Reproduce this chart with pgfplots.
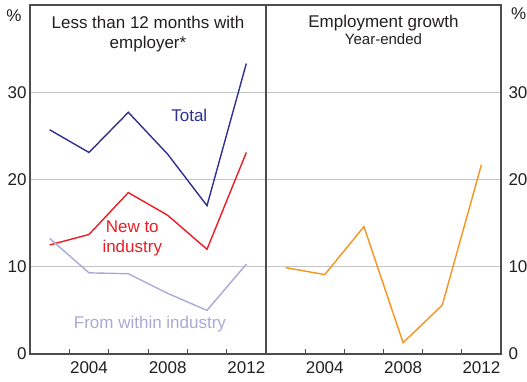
\documentclass[border=0pt]{standalone}
\usepackage{pgfplots}
\pgfplotsset{compat=1.18}
\usepackage{fontspec}
\setmainfont{Liberation Sans}
\definecolor{rbanavy}{HTML}{2E3192}
\definecolor{rbared}{HTML}{ED1C24}
\definecolor{rbalav}{HTML}{A9A9D9}
\definecolor{rbaorange}{HTML}{F7941D}
\definecolor{framegray}{HTML}{4D4D4D}
\definecolor{gridgray}{HTML}{C4C4C4}
\definecolor{textgray}{HTML}{231F20}
\newcommand{\bigf}{\fontsize{17}{20}\selectfont}
\newcommand{\smallf}{\fontsize{15}{17}\selectfont}
\pgfplotsset{panel/.style={
  scale only axis, width=236pt, height=349pt,
  xmin=2001, xmax=2013, ymin=0, ymax=40,
  xtick={2004,2008,2012},
  minor xtick={2003,2005,...,2011},
  major x tick style={draw=none},
  minor x tick style={framegray, line width=0.8pt},
  minor tick length=5pt,
  tick align=inside,
  xtick pos=bottom,
  ytick={0,10,20,30},
  ytick style={draw=none},
  ymajorgrids, grid style={gridgray, line width=0.9pt},
  axis line style={framegray, line width=1.2pt},
  /pgf/number format/assume math mode=true,
  /pgf/number format/1000 sep={},
  tick label style={font=\bigf, text=textgray},
  x tick label style={yshift=-4pt},
  every axis plot/.append style={line width=1.4pt, mark=none},
  clip=false,
}}
\begin{document}
\begin{tikzpicture}[x=1pt,y=1pt]
\begin{axis}[panel, at={(30pt,27pt)}, anchor=south west, yticklabel pos=left]
\addplot[rbanavy] coordinates {(2002,25.7) (2004,23.1) (2006,27.7) (2008,22.9) (2010,17.0) (2012,33.3)};
\addplot[rbared] coordinates {(2002,12.5) (2004,13.7) (2006,18.5) (2008,15.9) (2010,12.0) (2012,23.1)};
\addplot[rbalav] coordinates {(2002,13.25) (2004,9.3) (2006,9.2) (2008,6.95) (2010,5.0) (2012,10.3)};
\node[font=\bigf, text=rbanavy] at (axis cs:2009.1,27.3) {Total};
\node[font=\bigf, text=rbared, align=center] at (axis cs:2006.2,13.2) {New to\\industry};
\node[font=\bigf, text=textgray, align=center, anchor=north] at (rel axis cs:0.5,0.979) {Less than 12 months with\\employer*};
\node[font=\bigf, text=rbalav] at (axis cs:2007.1,3.4) {From within industry};
\node[font=\bigf, text=textgray] at (rel axis cs:-0.068,0.969) {\%};
\end{axis}
\begin{axis}[panel, at={(266pt,27pt)}, anchor=south west, width=235pt, yticklabel pos=right, y tick label style={xshift=4pt}]
\addplot[rbaorange] coordinates {(2002,9.9) (2004,9.1) (2006,14.6) (2008,1.3) (2010,5.6) (2012,21.7)};
\node[font=\bigf, text=textgray, anchor=north] at (rel axis cs:0.5,0.982) {Employment growth};
\node[font=\smallf, text=textgray] at (rel axis cs:0.5,0.903) {Year-ended};
\node[font=\bigf, text=textgray] at (rel axis cs:1.075,0.975) {\%};
\end{axis}
\pgfresetboundingbox
\useasboundingbox (0,0) rectangle (527,381);
\end{tikzpicture}
\end{document}
